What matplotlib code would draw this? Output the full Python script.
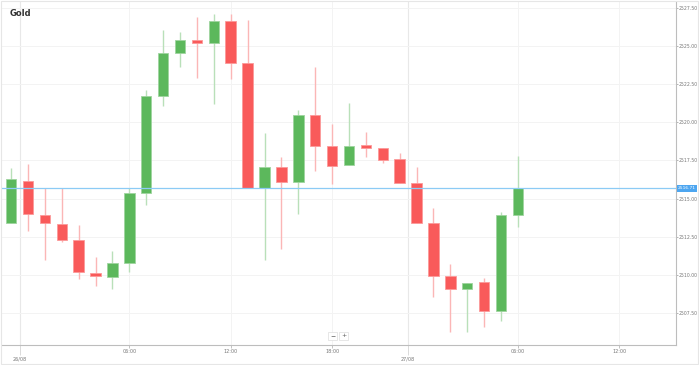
import matplotlib
matplotlib.use("Agg")
import matplotlib.pyplot as plt
import matplotlib.transforms as mtransforms
from matplotlib.patches import Rectangle

# hourly gold candles, 25/08 23:00 -> 27/08 06:00 (one per slot)
opens = [2513.40, 2516.18, 2513.93, 2513.36, 2512.29, 2510.14, 2509.86, 2510.78,
         2515.35, 2521.73, 2524.53, 2525.42, 2525.19, 2526.63, 2523.89, 2515.68,
         2517.09, 2516.11, 2520.48, 2518.45, 2517.19, 2518.52, 2518.34, 2517.58,
         2516.02, 2513.38, 2509.93, 2509.05, 2509.53, 2507.65, 2513.93]
highs = [2517.03, 2517.25, 2515.72, 2515.68, 2513.27, 2511.15, 2511.57, 2515.70,
         2522.12, 2526.06, 2525.91, 2526.89, 2527.09, 2527.09, 2526.71, 2519.28,
         2517.75, 2520.81, 2523.65, 2519.87, 2521.25, 2519.37, 2518.34, 2517.97,
         2517.09, 2514.40, 2510.71, 2509.47, 2509.82, 2514.14, 2517.81]
lows = [2513.40, 2512.90, 2510.96, 2512.14, 2509.75, 2509.29, 2509.07, 2510.17,
        2514.56, 2521.07, 2523.65, 2522.91, 2521.22, 2522.84, 2515.68, 2510.98,
        2511.70, 2513.97, 2516.83, 2515.94, 2517.19, 2517.75, 2517.32, 2515.99,
        2513.38, 2508.57, 2506.23, 2506.23, 2506.56, 2506.98, 2513.12]
closes = [2516.27, 2513.97, 2513.40, 2512.27, 2510.19, 2509.93, 2510.80, 2515.35,
          2521.73, 2524.57, 2525.42, 2525.19, 2526.67, 2523.87, 2515.68, 2517.09,
          2516.11, 2520.48, 2518.45, 2517.14, 2518.45, 2518.30, 2517.53, 2516.02,
          2513.38, 2509.93, 2509.05, 2509.47, 2507.65, 2513.93, 2515.68]

hour_ticks = [7, 13, 19, 30, 36]
hour_labels = ["06:00", "12:00", "18:00", "06:00", "12:00"]
day_ticks = [0.51, 23.5]
day_labels = ["26/08", "27/08"]
price_ticks = [2507.5, 2510.0, 2512.5, 2515.0, 2517.5, 2520.0, 2522.5, 2525.0, 2527.5]
last_price_label = "2516.71"

up_color = "#5cb85c"
down_color = "#f95a5a"

fig = plt.figure(figsize=(6.99, 3.65), dpi=100)
fig.patches.append(Rectangle((0.001, 0.004), 0.997, 0.993, transform=fig.transFigure,
                             fill=False, edgecolor="#e6e6e6", linewidth=0.8))
ax = fig.add_axes([0.003, 0.0548, 0.964, 0.9397])

x = list(range(len(opens)))
colors = [up_color if c >= o else down_color for o, c in zip(opens, closes)]
wick_colors = ["#b9e0b9" if c >= o else "#fbb6b6" for o, c in zip(opens, closes)]

ax.vlines(x, lows, highs, colors=wick_colors, linewidth=1.0, zorder=2)
bottoms = [min(o, c) for o, c in zip(opens, closes)]
heights = [max(abs(c - o), 0.12) for o, c in zip(opens, closes)]
edge = ["#9fd49f" if c >= o else "#fc9a9a" for o, c in zip(opens, closes)]
ax.bar(x, heights, bottom=bottoms, width=0.62, color=colors, edgecolor=edge,
       linewidth=0.6, zorder=3)

# last price line + label
ax.axhline(closes[-1], color="#8ccbf5", linewidth=0.9, zorder=4)
trans = mtransforms.blended_transform_factory(ax.transAxes, ax.transData)
ax.text(1.003, closes[-1], last_price_label, transform=trans, ha="left", va="center",
        fontsize=3.2, color="white", zorder=5, clip_on=False,
        bbox=dict(boxstyle="square,pad=0.3", facecolor="#4da6f0", edgecolor="none"))

ax.set_xlim(-0.53, 39.35)
ax.set_ylim(2505.40, 2527.89)

ax.yaxis.tick_right()
ax.set_yticks(price_ticks)
ax.set_yticklabels(["%.2f" % p for p in price_ticks])
ax.tick_params(axis="y", labelsize=3.3, colors="#999999", labelcolor="#777777",
               length=1.5, width=0.5, pad=0.7)

ax.set_xticks(hour_ticks)
ax.set_xticklabels(hour_labels)
ax.set_xticks(day_ticks, minor=True)
ax.set_xticklabels(day_labels, minor=True)
ax.tick_params(axis="x", which="major", labelsize=3.5, colors="#aaaaaa",
               labelcolor="#777777", length=2, width=0.5, pad=1)
ax.tick_params(axis="x", which="minor", labelsize=3.5, colors="#cccccc",
               labelcolor="#777777", length=7, width=0.5, pad=1)

ax.grid(axis="y", color="#f3f3f3", linewidth=0.7, zorder=0)
ax.grid(axis="x", which="major", color="#f3f3f3", linewidth=0.7, zorder=0)
ax.grid(axis="x", which="minor", color="#e8e8e8", linewidth=0.8, zorder=0)

for side in ["left", "top"]:
    ax.spines[side].set_visible(False)
ax.spines["right"].set_color("#bdbdbd")
ax.spines["bottom"].set_color("#bdbdbd")
ax.spines["right"].set_linewidth(0.8)
ax.spines["bottom"].set_linewidth(0.8)

fig.text(0.014, 0.963, "Gold", fontsize=6, fontweight="bold", color="#333333",
         ha="left", va="center")

# zoom buttons
box = dict(boxstyle="square,pad=0.3", facecolor="white", edgecolor="#dddddd", linewidth=0.5)
fig.text(0.476, 0.0795, "\u2212", fontsize=4.5, color="#555555", ha="center", va="center", bbox=box)
fig.text(0.4915, 0.0795, "+", fontsize=4.5, color="#555555", ha="center", va="center", bbox=box)

fig.savefig("out.png", dpi=100)
